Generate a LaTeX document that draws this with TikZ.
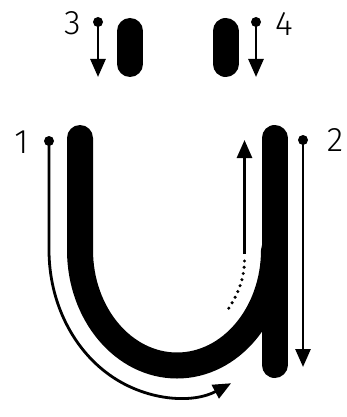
\documentclass[tikz,border=0pt]{standalone}
\usepackage{fontspec}
\setmainfont{Fira Sans Light}
\usetikzlibrary{arrows.meta}
\begin{document}
\begin{tikzpicture}[x=1pt,y=1pt,
  stroke/.style={line width=26pt,line cap=round,black},
  guide/.style={line width=2.8pt,black},
  guidearrow/.style={guide,-{Triangle[length=18pt,width=15pt]}},
  startdot/.style={circle,fill=black,inner sep=0pt,minimum size=10pt},
  lbl/.style={font=\fontsize{34}{34}\selectfont,inner sep=0pt}]
\useasboundingbox (0,0) rectangle (347,-417);
% letter strokes
\draw[stroke] (80,-138) -- (80,-250) arc[start angle=180,end angle=360,x radius=97,y radius=115.5];
\draw[stroke] (274.5,-138) -- (274.5,-365);
\draw[stroke] (130,-31) -- (130,-64);
\draw[stroke] (225.5,-31) -- (225.5,-64);
% start points
\node[startdot] (d1) at (49,-141) {};
\node[startdot] (d2) at (303,-140) {};
\node[startdot] (d3) at (98,-22) {};
\node[startdot] (d4) at (256,-22) {};
\coordinate (e2) at (303,-367);
\coordinate (e3) at (98,-77);
\coordinate (e4) at (256,-77);
\coordinate (b1) at (49,-250);
\coordinate (us) at (244.5,-254);
\coordinate (ue) at (244.5,-140);
\coordinate (ds) at (244.5,-261);
\coordinate (de) at (227,-311);
% labels
\node[lbl] (l1) at (21.5,-142) {1};
\node[lbl] (l2) at (335,-140) {2};
\node[lbl] (l3) at (72.5,-23) {3};
\node[lbl] (l4) at (284,-24) {4};
% guides
\draw[guidearrow] (d1.center) -- (b1) arc[start angle=180,end angle=295,x radius=128,y radius=147];
\draw[guidearrow] (d2.center) -- (e2);
\draw[guidearrow] (d3.center) -- (e3);
\draw[guidearrow] (d4.center) -- (e4);
\draw[guidearrow] (us) -- (ue);
\draw[line width=3.4pt,line cap=round,dash pattern=on 0pt off 6.3pt] (ds) .. controls (244,-281) and (237,-296) .. (de);
\end{tikzpicture}
\end{document}
